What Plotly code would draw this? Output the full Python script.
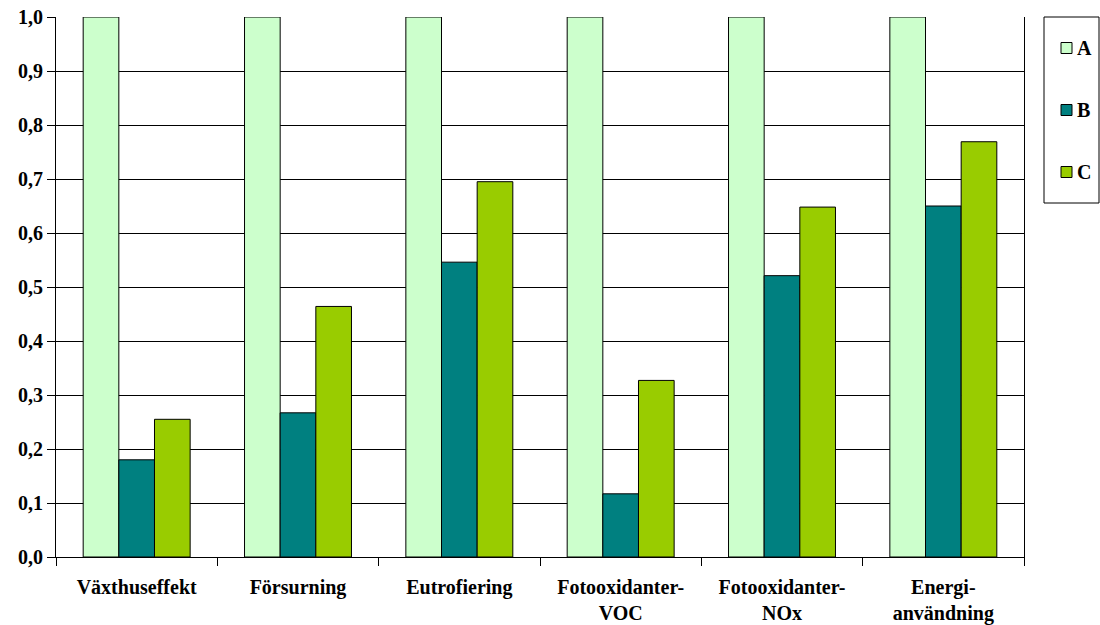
import plotly.graph_objects as go

categories = ["Växthuseffekt", "Försurning", "Eutrofiering",
              "Fotooxidanter-<br>VOC", "Fotooxidanter-<br>NOx", "Energi-<br>användning"]
series_names = ["A", "B", "C"]
values_A = [1.0, 1.0, 1.0, 1.0, 1.0, 1.0]
values_B = [0.18, 0.267, 0.546, 0.117, 0.521, 0.650]
values_C = [0.255, 0.464, 0.695, 0.327, 0.648, 0.769]
colors = ["#CCFFCC", "#008080", "#99CC00"]
y_ticks = [i / 10 for i in range(11)]

W, H = 1100, 625
ML, MR, MT, MB = 56, 76, 17, 68
PW, PH = W - ML - MR, H - MT - MB

FONT = "Liberation Serif"

fig = go.Figure()
for name, vals, col in zip(series_names, [values_A, values_B, values_C], colors):
    fig.add_trace(go.Bar(
        x=categories, y=vals, name=name,
        marker=dict(color=col, line=dict(color="black", width=1)),
        showlegend=False,
    ))

# custom legend (Excel style)
def px_x(p):
    return (p - ML) / PW

def px_y(p):
    return (H - MB - p) / PH

shapes = [dict(type="rect", xref="paper", yref="paper",
               x0=px_x(1044), x1=px_x(1099), y0=px_y(203), y1=px_y(17),
               line=dict(color="black", width=1), fillcolor="white")]
annotations = []
centers = [48, 110, 172]
for name, col, cy in zip(series_names, colors, centers):
    shapes.append(dict(type="rect", xref="paper", yref="paper",
                       x0=px_x(1061), x1=px_x(1072),
                       y0=px_y(cy + 5.5), y1=px_y(cy - 5.5),
                       line=dict(color="black", width=1), fillcolor=col))
    annotations.append(dict(xref="paper", yref="paper", x=px_x(1075), y=px_y(cy),
                            text="<b>" + name + "</b>", showarrow=False,
                            xanchor="left", yanchor="middle",
                            font=dict(family=FONT, size=20, color="black")))

fig.update_layout(
    width=W, height=H,
    margin=dict(l=ML, r=MR, t=MT, b=MB, autoexpand=False),
    paper_bgcolor="white", plot_bgcolor="white",
    barmode="group", bargap=0.337, bargroupgap=0,
    separators=", ",
    font=dict(family=FONT, size=20, color="black", weight="bold"),
    shapes=shapes, annotations=annotations,
    xaxis=dict(
        showline=True, linecolor="black", linewidth=1,
        ticks="outside", ticklen=8, tickcolor="black", tickson="boundaries",
        ticklabelstandoff=12, automargin=False,
        showgrid=False, tickfont=dict(family=FONT, size=20, color="black", weight="bold"),
    ),
    yaxis=dict(
        range=[0, 1.0], tickvals=y_ticks, tickformat=".1f",
        showline=True, linecolor="black", linewidth=1, mirror=True,
        ticks="outside", ticklen=8, tickcolor="black", automargin=False,
        showgrid=True, gridcolor="black", gridwidth=1,
        zeroline=False,
        tickfont=dict(family=FONT, size=20, color="black", weight="bold"),
    ),
)

fig.write_html("out.html")
